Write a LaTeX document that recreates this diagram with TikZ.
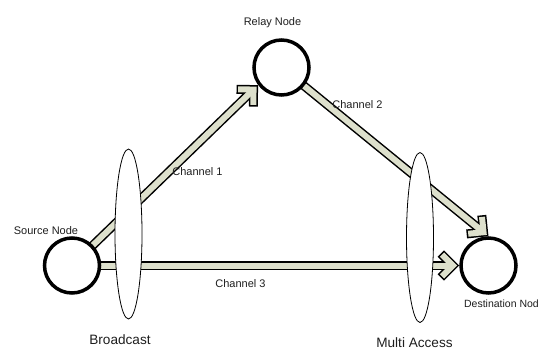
\documentclass[tikz,border=0pt]{standalone}
\usepackage{fontspec}
\setmainfont{Liberation Sans}
\usetikzlibrary{calc,shapes.geometric,backgrounds}
\definecolor{arrowfill}{RGB}{221,224,204}
\definecolor{txt}{RGB}{30,30,30}
\newcommand\blockarrow[2]{%
  \coordinate (ba-t) at ($(#2)!6.4pt!(#1)$);
  \coordinate (ba-l) at ($(ba-t)!17pt!45:(#1)$);
  \coordinate (ba-r) at ($(ba-t)!17pt!-45:(#1)$);
  \coordinate (ba-l2) at ($(ba-t)!15.4pt!45:(#1)$);
  \coordinate (ba-r2) at ($(ba-t)!15.4pt!-45:(#1)$);
  \draw[arrowout] (#1) -- (ba-t);
  \draw[arrowout] (ba-l) -- (ba-t) -- (ba-r);
  \draw[arrowin] (#1) -- (ba-t);
  \draw[arrowin] (ba-l2) -- (ba-t) -- (ba-r2);
}
\begin{document}
\begin{tikzpicture}[x=1pt,y=-1pt,
  station/.style={circle,draw=black,line width=3.5pt,fill=white,minimum size=55pt,inner sep=0pt},
  zone/.style={ellipse,draw=black,line width=0.8pt,fill=white,minimum width=27pt,minimum height=170pt,inner sep=0pt},
  arrowout/.style={draw=black,line width=9pt,line cap=butt,line join=miter},
  arrowin/.style={draw=arrowfill,line width=6pt,line cap=butt,line join=miter},
  lbl/.style={font=\fontsize{11}{13}\selectfont,text=txt,anchor=base,inner sep=0pt},
  biglbl/.style={font=\fontsize{13.6}{16}\selectfont,text=txt,anchor=base,inner sep=0pt}]
\useasboundingbox (0,0) rectangle (549,349);
\node[station] (src) at (72,265.5) {};
\node[station] (relay) at (281.5,67.5) {};
\node[station] (dst) at (488.5,265.5) {};
\begin{scope}[on background layer]
  \blockarrow{src.center}{relay.217}
  \blockarrow{relay.center}{dst.north}
  \blockarrow{src.center}{dst.west}
\end{scope}
\node[zone] (bcast) at (128.5,234) {};
\node[zone] (macc) at (420,237.5) {};
\node[lbl] (srcl) at (46,234.5) {Source Node};
\node[lbl] (relayl) at (272.5,25) {Relay Node};
\node[lbl] (dstl) [font=\fontsize{10.5}{12}\selectfont] at (501.5,307) {Destination Nod};
\node[lbl] (ch1) at (197.5,175) {Channel 1};
\node[lbl] (ch2) at (357.5,108) {Channel 2};
\node[lbl] (ch3) at (240.5,287) {Channel 3};
\node[biglbl] (bl) at (120,344) {Broadcast};
\node[biglbl] (ml) at (414.5,347.5) {Multi Access};
\end{tikzpicture}
\end{document}
